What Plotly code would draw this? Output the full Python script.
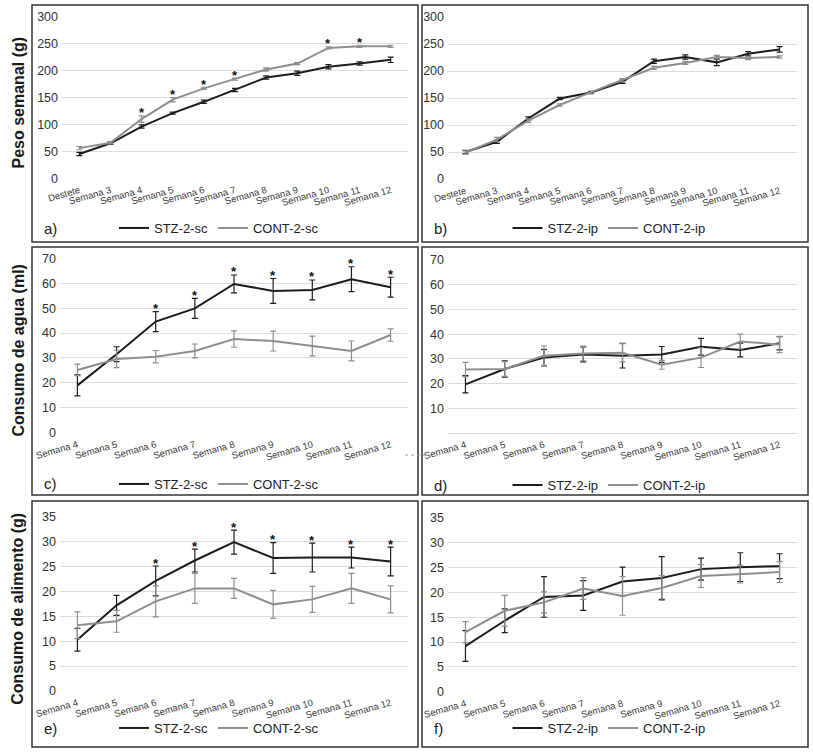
import plotly.graph_objects as go

W, H = 813, 752

cats_peso = ["Destete", "Semana 3", "Semana 4", "Semana 5", "Semana 6", "Semana 7",
             "Semana 8", "Semana 9", "Semana 10", "Semana 11", "Semana 12"]
cats_cons = ["Semana 4", "Semana 5", "Semana 6", "Semana 7", "Semana 8",
             "Semana 9", "Semana 10", "Semana 11", "Semana 12"]

# a) Peso semanal, sc
a_stz = [45, 65, 96, 121, 142, 164, 187, 195, 207, 213, 220]
a_stz_err = [3, 2, 3, 2, 3, 3, 3, 4, 4, 3, 5]
a_cont = [56, 66, 110, 146, 167, 184, 202, 213, 242, 245, 245]
a_cont_err = [3, 2, 6, 4, 2, 2, 3, 2, 2, 2, 2]
a_sig = ["Semana 4", "Semana 5", "Semana 6", "Semana 7", "Semana 10", "Semana 11"]

# b) Peso semanal, ip
b_stz = [50, 69, 112, 149, 160, 180, 218, 226, 216, 232, 240]
b_stz_err = [3, 3, 3, 2, 2, 3, 4, 4, 6, 4, 5]
b_cont = [49, 73, 108, 137, 161, 183, 206, 215, 226, 224, 226]
b_cont_err = [3, 4, 3, 2, 2, 3, 3, 3, 3, 3, 2]
b_sig = []

# c) Consumo de agua, sc
c_stz = [19.0, 31.5, 44.6, 49.9, 59.7, 56.9, 57.3, 61.6, 58.4]
c_stz_err = [4.2, 3.0, 4.0, 4.0, 3.6, 5.0, 4.0, 5.0, 4.0]
c_cont = [25.2, 29.6, 30.5, 32.8, 37.6, 36.8, 34.8, 32.8, 39.2]
c_cont_err = [2.3, 3.5, 2.5, 2.8, 3.3, 4.0, 4.0, 4.0, 2.5]
c_sig = ["Semana 6", "Semana 7", "Semana 8", "Semana 9", "Semana 10", "Semana 11", "Semana 12"]

# d) Consumo de agua, ip
d_stz = [19.7, 25.9, 30.5, 31.8, 31.3, 31.8, 34.9, 33.6, 36.3]
d_stz_err = [3.5, 3.3, 3.3, 3.0, 5.0, 3.2, 3.4, 2.8, 2.7]
d_cont = [25.7, 25.9, 31.3, 32.2, 32.5, 27.6, 30.5, 37.0, 35.8]
d_cont_err = [2.9, 3.0, 3.9, 3.0, 3.7, 1.8, 4.0, 3.0, 3.3]
d_sig = []

# e) Consumo de alimento, sc
e_stz = [10.3, 17.2, 22.1, 26.2, 29.9, 26.7, 26.8, 26.8, 26.0]
e_stz_err = [2.3, 2.0, 3.0, 2.3, 2.4, 3.1, 2.9, 2.1, 2.9]
e_cont = [13.2, 14.0, 18.0, 20.6, 20.6, 17.4, 18.4, 20.6, 18.4]
e_cont_err = [2.7, 2.2, 3.1, 3.0, 2.0, 2.8, 2.6, 3.0, 2.7]
e_sig = ["Semana 6", "Semana 7", "Semana 8", "Semana 9", "Semana 10", "Semana 11", "Semana 12"]

# f) Consumo de alimento, ip
f_stz = [9.2, 14.3, 19.1, 19.4, 22.2, 22.9, 24.7, 25.1, 25.3]
f_stz_err = [3.1, 2.4, 4.1, 3.0, 2.9, 4.3, 2.2, 2.9, 2.5]
f_cont = [12.0, 16.3, 18.0, 20.8, 19.3, 20.9, 23.3, 23.7, 24.1]
f_cont_err = [2.1, 3.1, 2.1, 2.2, 3.9, 2.5, 2.3, 1.8, 2.1]
f_sig = []

y_titles = ["Peso semanal (g)", "Consumo de agua (ml)", "Consumo de alimento (g)"]
panel_letters = ["a)", "b)", "c)", "d)", "e)", "f)"]
legend_names = [("STZ-2-sc", "CONT-2-sc"), ("STZ-2-ip", "CONT-2-ip")]

BLACK = "#1c1c1c"
GRAY = "#8e8e8e"
FONT = "Liberation Sans, Arial, sans-serif"


def px(x):
    return x / W


def py(y):
    return 1 - y / H


panels = [
    # cats, stz, stz_err, cont, cont_err, sig, ymax, dtick, show0, box, plot(x0,x1,ytop,ybot), legend y
    (cats_peso, a_stz, a_stz_err, a_cont, a_cont_err, a_sig, 300, 50, True,
     (32, 418, 5, 242), (62, 408, 16.7, 178.3), 228),
    (cats_peso, b_stz, b_stz_err, b_cont, b_cont_err, b_sig, 300, 50, True,
     (422, 808, 5, 242), (448, 797, 17, 179), 228),
    (cats_cons, c_stz, c_stz_err, c_cont, c_cont_err, c_sig, 70, 10, True,
     (32, 418, 247, 495), (60, 408, 258.3, 432.7), 484),
    (cats_cons, d_stz, d_stz_err, d_cont, d_cont_err, d_sig, 70, 10, False,
     (422, 808, 247, 495), (448, 797, 260, 433), 485),
    (cats_cons, e_stz, e_stz_err, e_cont, e_cont_err, e_sig, 35, 5, True,
     (32, 418, 501, 747), (60, 408, 516.7, 691), 728),
    (cats_cons, f_stz, f_stz_err, f_cont, f_cont_err, f_sig, 35, 5, True,
     (422, 808, 501, 747), (448, 797, 518, 691.7), 728),
]

fig = go.Figure()
shapes = []
annotations = []
layout = dict(
    template="none",
    width=W, height=H, margin=dict(l=0, r=0, t=0, b=0, pad=0, autoexpand=False),
    paper_bgcolor="white", plot_bgcolor="white",
    font=dict(family=FONT, color="#333333"),
    showlegend=True,
)

for i, (cats, stz, stz_e, cont, cont_e, sig, ymax, dt, show0, box, pa, leg_y) in enumerate(panels):
    n = i + 1
    xa = "x" if n == 1 else f"x{n}"
    ya = "y" if n == 1 else f"y{n}"
    xkey = "xaxis" if n == 1 else f"xaxis{n}"
    ykey = "yaxis" if n == 1 else f"yaxis{n}"
    lkey = "legend" if n == 1 else f"legend{n}"
    names = legend_names[i % 2]

    fig.add_trace(go.Scatter(
        x=cats, y=stz, name=names[0], mode="lines", xaxis=xa, yaxis=ya, legend=lkey,
        line=dict(color=BLACK, width=2),
        error_y=dict(type="data", array=stz_e, color=BLACK, thickness=1.2, width=3),
    ))
    fig.add_trace(go.Scatter(
        x=cats, y=cont, name=names[1], mode="lines", xaxis=xa, yaxis=ya, legend=lkey,
        line=dict(color=GRAY, width=2),
        error_y=dict(type="data", array=cont_e, color=GRAY, thickness=1.2, width=3),
    ))

    x0, x1, yt, yb = pa
    tickvals = list(range(0 if show0 else dt, ymax + 1, dt))
    layout[xkey] = dict(
        domain=[px(x0), px(x1)], anchor=ya, type="category",
        categoryorder="array", categoryarray=cats, automargin=False,
        showgrid=False, showline=False, zeroline=False, ticks="",
        tickangle=-16, tickfont=dict(size=9.5, color="#3a3a3a", family=FONT),
        ticklabelstandoff=4,
    )
    layout[ykey] = dict(
        domain=[py(yb), py(yt)], anchor=xa, range=[0, ymax], automargin=False,
        tickvals=tickvals, showgrid=True, gridcolor="#dcdcdc", gridwidth=1.3,
        showline=False, zeroline=(not show0), zerolinecolor="#dcdcdc", zerolinewidth=1.3,
        ticks="", tickfont=dict(size=12.5, color="#333333", family=FONT),
        ticklabelstandoff=3,
    )
    layout[lkey] = dict(
        orientation="h", x=px((box[0] + box[1]) / 2 - 6), xanchor="center",
        y=py(leg_y), yanchor="middle", bgcolor="rgba(0,0,0,0)",
        font=dict(size=13, color="#222222", family=FONT),
        itemwidth=30, tracegroupgap=0, borderwidth=0,
    )

    # panel border
    shapes.append(dict(type="rect", xref="paper", yref="paper",
                       x0=px(box[0]), x1=px(box[1]), y0=py(box[3]), y1=py(box[2]),
                       line=dict(color="#333333", width=1.5)))
    # panel letter
    annotations.append(dict(text=panel_letters[i], xref="paper", yref="paper",
                            x=px(box[0] + 10), y=py(leg_y), xanchor="left", yanchor="middle",
                            showarrow=False, font=dict(size=15, color="#222222", family=FONT)))
    # significance asterisks
    for c in sig:
        k = cats.index(c)
        top = max(stz[k] + stz_e[k], cont[k] + cont_e[k])
        annotations.append(dict(text="<b>*</b>", x=c, y=top, xref=xa, yref=ya,
                                xanchor="center", yanchor="middle", yshift=3,
                                showarrow=False, font=dict(size=13, color="#111111", family=FONT)))
    # y-axis titles (left column)
    if i % 2 == 0:
        annotations.append(dict(text=f"<b>{y_titles[i // 2]}</b>", xref="paper", yref="paper",
                                x=px(18), y=py((yt + yb) / 2 + 5), textangle=-90,
                                xanchor="center", yanchor="middle", showarrow=False,
                                font=dict(size=16, color="#1a1a1a", family=FONT)))

# small dotted scan artefact near panel d
shapes.append(dict(type="line", xref="paper", yref="paper",
                   x0=px(405), x1=px(430), y0=py(455), y1=py(455),
                   line=dict(color="#9a9a9a", width=1, dash="dot")))

layout["shapes"] = shapes
layout["annotations"] = annotations
fig.update_layout(**layout)
fig.write_html("out.html", config={"displayModeBar": False},
               post_script="document.body.style.margin='0';")
